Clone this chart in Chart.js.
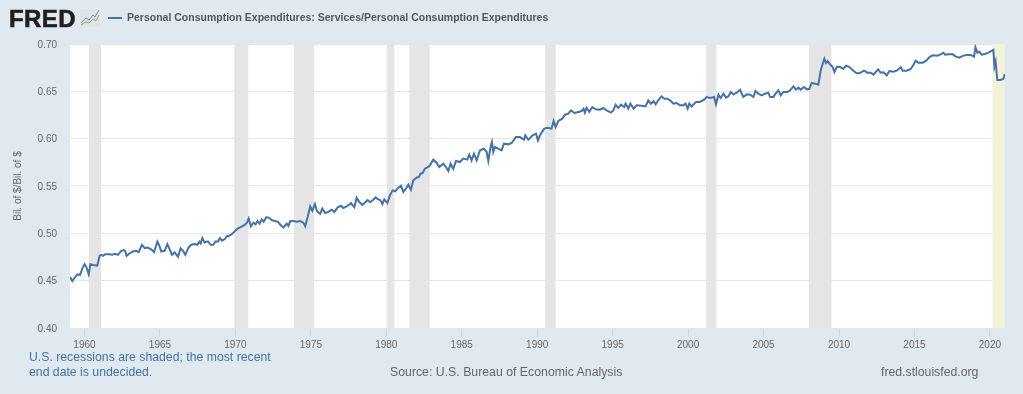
<!DOCTYPE html>
<html>
<head>
<meta charset="utf-8">
<title>Personal Consumption Expenditures: Services/Personal Consumption Expenditures</title>
<script src="https://cdn.jsdelivr.net/npm/chart.js@4"></script>
<style>
    html, body { margin: 0; padding: 0; background: #e1e9f0; overflow: hidden; }
    body { position: relative; width: 1023px; height: 394px; font-family: "Liberation Sans", Arial, sans-serif; }
    #chart { position: absolute; left: 0; top: 0; }
    .txt { position: absolute; white-space: nowrap; }
    #logo { left: 9px; top: 5px; font-size: 24px; line-height: 27px; font-weight: bold; color: #231f20; letter-spacing: 0.4px; -webkit-text-stroke: 0.6px #231f20; }
    #icon { position: absolute; left: 80px; top: 9px; }
    #swatch { position: absolute; left: 108px; top: 17px; width: 14px; height: 2px; background: #4572a7; }
    #title { left: 127px; top: 10px; font-size: 10.5px; line-height: 15px; font-weight: bold; color: #555; }
    #note { left: 29px; top: 350px; font-size: 12.25px; line-height: 15px; color: #4572a7; }
    #source { left: 390px; top: 365px; font-size: 12.3px; line-height: 15px; color: #666; }
    #site { left: 881px; top: 365px; font-size: 12.25px; line-height: 15px; color: #666; }
</style>
</head>
<body>
<canvas id="chart" width="1023" height="394"></canvas>
<div class="txt" id="logo">FRED</div>
<svg id="icon" width="20" height="18">
    <rect width="20" height="18" fill="#dfe3e3"/>
    <polyline points="1,14 6,9 9,11 13,6 15,8 19,1" fill="none" stroke="#6d8fb3" stroke-width="1"/>
    <polyline points="1,16 6,13 9,14 13,10 16,12 19,6" fill="none" stroke="#8db36d" stroke-width="1"/>
</svg>
<div id="swatch"></div>
<div class="txt" id="title">Personal Consumption Expenditures: Services/Personal Consumption Expenditures</div>
<div class="txt" id="note">U.S. recessions are shaded; the most recent<br>end date is undecided.</div>
<div class="txt" id="source">Source: U.S. Bureau of Economic Analysis</div>
<div class="txt" id="site">fred.stlouisfed.org</div>

<script>
    // Readings, year as a decimal
    var years = [
        1959.04, 1959.19, 1959.35, 1959.53, 1959.70, 1959.88, 1960.01, 1960.14, 1960.28, 1960.39, 1960.56, 1960.85, 1961.00, 1961.12, 1961.23, 1961.38, 1961.67, 1961.84, 1962.00, 1962.22, 1962.44, 1962.62, 1962.71, 1962.79, 1962.97, 1963.21, 1963.43, 1963.59, 1963.81, 1963.99, 1964.16, 1964.32, 1964.47, 1964.61, 1964.83, 1964.96, 1965.09, 1965.31, 1965.49, 1965.64, 1965.80, 1965.98, 1966.20, 1966.37, 1966.53, 1966.68, 1966.90, 1967.08, 1967.30, 1967.48, 1967.61, 1967.70, 1967.81, 1967.96, 1968.18, 1968.36, 1968.54, 1968.67, 1968.85, 1968.98, 1969.11, 1969.29, 1969.47,
        1969.53, 1969.71, 1969.93, 1970.15, 1970.37, 1970.59, 1970.77, 1970.88, 1971.03, 1971.19, 1971.34, 1971.47, 1971.61, 1971.74, 1971.87, 1972.05, 1972.23, 1972.40, 1972.62, 1972.80, 1972.95, 1973.18, 1973.40, 1973.51, 1973.64, 1973.84, 1974.06, 1974.28, 1974.50, 1974.63, 1974.83, 1974.96, 1975.10, 1975.27, 1975.41, 1975.61, 1975.76, 1975.94, 1976.16, 1976.38, 1976.56, 1976.78, 1977.00, 1977.15, 1977.37, 1977.66, 1977.88, 1978.04, 1978.19, 1978.41, 1978.59, 1978.76, 1978.94, 1979.12, 1979.29, 1979.47, 1979.60, 1979.74, 1979.87,
        1979.89, 1980.07, 1980.24, 1980.42, 1980.60, 1980.73, 1980.97, 1981.13, 1981.30, 1981.46, 1981.63, 1981.79, 1982.01, 1982.16, 1982.27, 1982.41, 1982.56, 1982.78, 1982.89, 1983.11, 1983.34, 1983.51, 1983.78, 1983.95, 1984.11, 1984.26, 1984.44, 1984.62, 1984.88, 1985.10, 1985.37, 1985.50, 1985.65, 1985.81, 1985.99, 1986.21, 1986.47, 1986.65, 1986.76, 1986.91, 1987.00, 1987.09, 1987.20, 1987.42, 1987.64, 1987.80, 1988.08, 1988.31, 1988.59, 1988.86, 1989.12, 1989.21, 1989.41, 1989.70, 1989.92, 1990.05, 1990.18,
        1990.25, 1990.47, 1990.69, 1990.95, 1991.09, 1991.22, 1991.40, 1991.66, 1991.84, 1992.06, 1992.24, 1992.46, 1992.72, 1992.94, 1993.07, 1993.16, 1993.27, 1993.45, 1993.65, 1993.87, 1994.16, 1994.38, 1994.60, 1994.89, 1995.04, 1995.20, 1995.37, 1995.55, 1995.77, 1995.86, 1996.04, 1996.17, 1996.39, 1996.59, 1996.92, 1997.18, 1997.36, 1997.54, 1997.71, 1997.85, 1998.02, 1998.24, 1998.42, 1998.64, 1998.86, 1999.02, 1999.24, 1999.46, 1999.68, 1999.83, 1999.97, 2000.08, 2000.23, 2000.41,
        2000.53, 2000.75, 2000.90, 2001.06, 2001.23, 2001.46, 2001.72, 2001.85, 2002.01, 2002.16, 2002.34, 2002.52, 2002.67, 2002.83, 2003.00, 2003.22, 2003.44, 2003.66, 2003.89, 2004.11, 2004.33, 2004.46, 2004.66, 2004.88, 2005.10, 2005.32, 2005.43, 2005.65, 2005.76, 2005.98, 2006.14, 2006.31, 2006.58, 2006.76, 2006.98, 2007.15, 2007.31, 2007.46, 2007.68, 2007.86, 2008.04, 2008.19, 2008.41, 2008.63, 2008.79, 2008.92, 2009.03, 2009.14, 2009.25, 2009.41, 2009.58, 2009.69, 2009.85, 2010.07, 2010.29, 2010.47, 2010.69,
        2010.95, 2011.17, 2011.35, 2011.66, 2011.88, 2012.10, 2012.28, 2012.59, 2012.76, 2012.94, 2013.16, 2013.34, 2013.60, 2013.82, 2014.09, 2014.22, 2014.49, 2014.75, 2014.93, 2015.08, 2015.26, 2015.55, 2015.77, 2016.03, 2016.25, 2016.52, 2016.74, 2016.92, 2017.03, 2017.25, 2017.53, 2017.75, 2017.97, 2018.24, 2018.46, 2018.73, 2018.95, 2019.04, 2019.17, 2019.30, 2019.46, 2019.68, 2019.90, 2020.23, 2020.30, 2020.38, 2020.49, 2020.67, 2020.89, 2020.98
    ];
    var ratio = [
        .4539, .4496, .4531, .4567, .456, .4638, .4673, .4638, .4567, .4673, .4666, .4659, .4762, .4773, .4762, .478, .478, .4773, .4783, .4773, .4815, .4823, .4808, .4762, .4787, .4808, .4815, .4801, .4879, .4844, .4851, .484, .4823, .4801, .4911, .4869, .4808, .4815, .4886, .4833, .4773, .4798, .4752, .484, .4815, .4773, .4851, .4879, .4886, .4879, .4911, .4894, .495, .4904, .4915, .4879, .4879, .4915, .4915, .495, .4922, .494, .4975,
        .4969, .4986, .5017, .5051, .5068, .5086, .5113, .5157, .5075, .5113, .5096, .513, .5103, .5147, .5123, .5171, .5164, .514, .513, .5123, .5096, .5062, .5103, .5079, .513, .513, .5123, .513, .5113, .5075, .5198, .5284, .5239, .5308, .5233, .5205, .526, .5215, .5226, .525, .5226, .5274, .5291, .5267, .5284, .5318, .5277, .5376, .5335, .5301, .5325, .5352, .5328, .5352, .538, .5359, .5352, .5308, .5359,
        .5356, .532, .5401, .5454, .5444, .5472, .5504, .5437, .5472, .5514, .5461, .556, .5588, .5595, .563, .5637, .5683, .5701, .5718, .5778, .5743, .5701, .5736, .5701, .5658, .5736, .5683, .5764, .5753, .5789, .5778, .5831, .5771, .5841, .5771, .5877, .5894, .5859, .5764, .5912, .5965, .5859, .5912, .5894, .5877, .5947, .594, .5954, .6017, .6017, .5989, .6035, .5989, .6035, .6053, .5982, .6035,
        .6053, .6106, .6116, .6106, .6187, .6123, .6187, .6211, .6253, .6264, .6299, .6271, .6282, .6292, .6317, .6275, .6327, .6282, .6334, .631, .6306, .6324, .6299, .6275, .6299, .6359, .6324, .6359, .6334, .637, .6317, .637, .6317, .6352, .6348, .6341, .6405, .637, .6398, .6363, .6405, .6447, .6422, .6422, .6398, .637, .6377, .6352, .6352, .637, .6317, .637, .6341, .637,
        .6387, .6387, .6398, .6412, .644, .643, .644, .6363, .6465, .643, .6475, .6433, .6447, .6493, .6468, .6486, .6518, .644, .6468, .6465, .644, .6504, .6475, .6458, .6475, .6486, .644, .644, .6468, .6511, .6458, .6493, .6493, .6511, .6553, .6518, .6539, .6518, .6546, .6521, .6528, .6588, .6581, .657, .6722, .6792, .6845, .6799, .682, .6785, .6757, .6704, .6757, .6757, .6739, .6771, .6757,
        .6718, .669, .669, .6718, .6697, .6697, .6676, .6732, .6697, .6701, .6669, .6715, .6708, .6718, .6754, .6718, .6718, .6736, .6778, .6824, .6803, .6803, .6824, .6866, .688, .6877, .6891, .6908, .6887, .6891, .6891, .6866, .6856, .6877, .6884, .6884, .6866, .6965, .6908, .6919, .6887, .6894, .6908, .6937, .6761, .6813, .662, .662, .663, .6683
    ];
    var tickYears = [1960, 1965, 1970, 1975, 1980, 1985, 1990, 1995, 2000, 2005, 2010, 2015, 2020];
    var tickValues = [0.40, 0.45, 0.50, 0.55, 0.60, 0.65, 0.70];

    // Recessions, the last one has no end date yet
    var recessionStart = [1960.30, 1969.93, 1973.88, 1980.03, 1981.53, 1990.53, 2001.20, 2008.00];
    var recessionEnd = [1961.10, 1970.86, 1975.20, 1980.53, 1982.87, 1991.22, 2001.88, 2009.50];
    var openStart = 2020.16;
    var axisStart = 1959.04;
    var axisEnd = 2021.0;

    // White plot and shaded bands go under the line
    var bands = {
        id: 'bands',
        beforeDraw: function (chart) {
            var a = chart.chartArea;
            chart.ctx.fillStyle = '#ffffff';
            chart.ctx.fillRect(a.left, a.top, a.width, a.height);
        },
        beforeDatasetsDraw: function (chart) {
            var a = chart.chartArea, x = chart.scales.x, ctx = chart.ctx;
            ctx.fillStyle = '#e5e5e5';
            recessionStart.forEach(function (s, i) {
                var l = x.getPixelForValue(s);
                ctx.fillRect(l, a.top, x.getPixelForValue(recessionEnd[i]) - l, a.height);
            });
            ctx.fillStyle = '#f3f3da';
            var o = x.getPixelForValue(openStart);
            ctx.fillRect(o, a.top, a.right - o, a.height);
        }
    };

    var tickFont = { family: '"Liberation Sans", Arial, sans-serif', size: 10 };

    new Chart(document.getElementById('chart'), {
        type: 'line',
        data: {
            datasets: [{
                label: 'Personal Consumption Expenditures: Services/Personal Consumption Expenditures',
                data: years.map(function (y, i) { return { x: y, y: ratio[i] }; }),
                borderColor: '#4572a7',
                borderWidth: 2,
                pointRadius: 0,
                tension: 0,
                fill: false
            }]
        },
        options: {
            responsive: false,
            animation: false,
            layout: { padding: { top: 44, right: 18, left: 0, bottom: 0 } },
            plugins: { legend: { display: false }, tooltip: { enabled: false } },
            scales: {
                x: {
                    type: 'linear',
                    min: axisStart,
                    max: axisEnd,
                    afterBuildTicks: function (axis) {
                        axis.ticks = tickYears.map(function (v) { return { value: v }; });
                    },
                    afterFit: function (axis) { axis.height = 66; },
                    border: { display: false },
                    grid: { drawOnChartArea: false, tickLength: 9, tickColor: '#ccd6eb' },
                    ticks: {
                        autoSkip: false,
                        maxRotation: 0,
                        padding: 2,
                        color: '#666666',
                        font: tickFont,
                        callback: function (v) { return String(v); }
                    }
                },
                y: {
                    min: 0.40,
                    max: 0.70,
                    afterBuildTicks: function (axis) {
                        axis.ticks = tickValues.map(function (v) { return { value: v }; });
                    },
                    afterFit: function (axis) { axis.width = 70; },
                    border: { display: false },
                    grid: { color: '#e6e6e6', drawTicks: false },
                    ticks: {
                        padding: 13,
                        labelOffset: 1,
                        color: '#666666',
                        font: tickFont,
                        callback: function (v) { return v.toFixed(2); }
                    },
                    title: {
                        display: true,
                        text: 'Bil. of $/Bil. of $',
                        color: '#666666',
                        padding: { top: 12, bottom: 0 },
                        font: { family: tickFont.family, size: 10 }
                    }
                }
            }
        },
        plugins: [bands]
    });
</script>
</body>
</html>
